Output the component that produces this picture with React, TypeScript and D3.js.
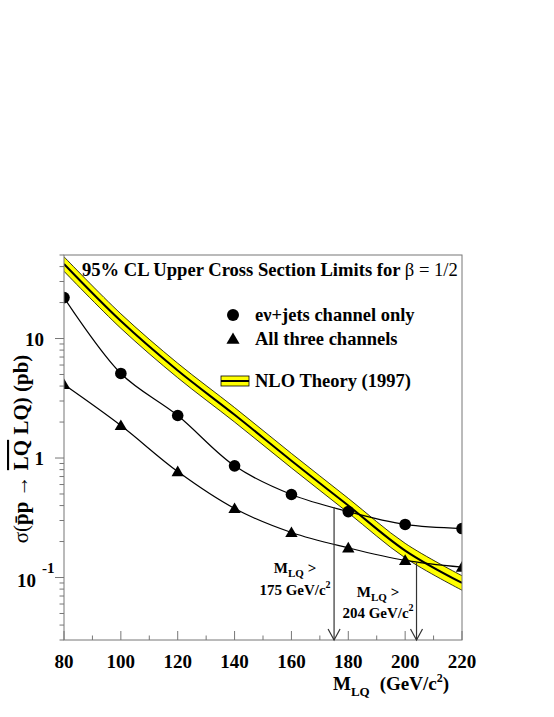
import React, { useEffect, useRef } from "react";
import * as d3 from "d3";

// mass points (GeV/c^2)
const masses = [80, 100, 120, 140, 160, 180, 200, 220];
// 95% CL limits (pb)
const evJetsLimits = [22, 5.1, 2.27, 0.86, 0.495, 0.356, 0.278, 0.257];
const allChannelsLimits = [4.12, 1.87, 0.77, 0.378, 0.238, 0.177, 0.139, 0.122];
// NLO theory (pb)
const theoryCentral = [42, 14, 5.4, 2.3, 0.95, 0.4, 0.168, 0.09];
const theoryUpper = theoryCentral.map((v) => v * 1.15);
const theoryLower = theoryCentral.map((v) => v / 1.15);
// mass limits and arrow tops
const limitMasses = [175, 204];
const limitLabels = ["175 GeV/c", "204 GeV/c"];
const arrowTops = [0.39, 0.133];
const xTicks = [80, 100, 120, 140, 160, 180, 200, 220];

const FONT = "Liberation Serif, Times New Roman, serif";

const App = () => {
  const ref = useRef(null);

  useEffect(() => {
    document.body.style.margin = "0";
    const width = 554;
    const height = 717;
    const m = { left: 64, right: 462, top: 255, bottom: 640 };

    const svg = d3.select(ref.current).attr("width", width).attr("height", height);
    svg.selectAll("*").remove();
    svg.append("rect").attr("width", width).attr("height", height).attr("fill", "white");

    const x = d3.scaleLinear().domain([80, 220]).range([m.left, m.right]);
    const y = d3.scaleLog().domain([0.03, 50]).range([m.bottom, m.top]);

    svg.append("clipPath").attr("id", "frame")
      .append("rect")
      .attr("x", m.left).attr("y", m.top)
      .attr("width", m.right - m.left).attr("height", m.bottom - m.top);

    const plot = svg.append("g").attr("clip-path", "url(#frame)");

    // theory band
    const band = d3.area()
      .x((d, i) => x(masses[i]))
      .y0((d, i) => y(theoryLower[i]))
      .y1((d, i) => y(theoryUpper[i]))
      .curve(d3.curveCatmullRom);
    plot.append("path").datum(masses).attr("d", band)
      .attr("fill", "#ffff00").attr("stroke", "none");

    const line = (vals) => d3.line()
      .x((d, i) => x(masses[i]))
      .y((d, i) => y(vals[i]))
      .curve(d3.curveCatmullRom)(masses);

    plot.append("path").attr("d", line(theoryUpper)).attr("fill", "none").attr("stroke", "black").attr("stroke-width", 0.8);
    plot.append("path").attr("d", line(theoryLower)).attr("fill", "none").attr("stroke", "black").attr("stroke-width", 0.8);
    plot.append("path").attr("d", line(theoryCentral)).attr("fill", "none").attr("stroke", "black").attr("stroke-width", 2);

    // limit curves
    plot.append("path").attr("d", line(evJetsLimits)).attr("fill", "none").attr("stroke", "black").attr("stroke-width", 1.2);
    plot.append("path").attr("d", line(allChannelsLimits)).attr("fill", "none").attr("stroke", "black").attr("stroke-width", 1.2);

    plot.selectAll("circle.ev").data(evJetsLimits).enter().append("circle")
      .attr("cx", (d, i) => x(masses[i])).attr("cy", (d) => y(d))
      .attr("r", 5.8).attr("fill", "black");

    const tri = d3.symbol().type(d3.symbolTriangle).size(66);
    plot.selectAll("path.tri").data(allChannelsLimits).enter().append("path")
      .attr("d", tri)
      .attr("transform", (d, i) => `translate(${x(masses[i])},${y(d) + 1})`)
      .attr("fill", "black");

    // frame
    const axisColor = "#777";
    svg.append("rect")
      .attr("x", m.left).attr("y", m.top)
      .attr("width", m.right - m.left).attr("height", m.bottom - m.top)
      .attr("fill", "none").attr("stroke", axisColor).attr("stroke-width", 1);

    // x ticks
    const xMinor = d3.range(80, 221, 10);
    svg.selectAll("line.xt").data(xMinor).enter().append("line")
      .attr("x1", (d) => x(d)).attr("x2", (d) => x(d))
      .attr("y1", m.bottom).attr("y2", (d) => m.bottom - (d % 20 === 0 ? 9 : 4.5))
      .attr("stroke", axisColor);
    svg.selectAll("text.xl").data(xTicks).enter().append("text")
      .attr("x", (d) => x(d)).attr("y", 668)
      .attr("text-anchor", "middle")
      .attr("font-family", FONT).attr("font-weight", "bold").attr("font-size", 19)
      .text((d) => d);

    // y ticks
    const yMinor = [];
    [0.01, 0.1, 1, 10].forEach((dec) => {
      for (let k = 1; k < 10; k++) {
        const v = dec * k;
        if (v >= 0.03 && v <= 50) yMinor.push({ v, major: k === 1 });
      }
    });
    svg.selectAll("line.yt").data(yMinor).enter().append("line")
      .attr("x1", m.left).attr("x2", (d) => m.left - (d.major ? 9 : 4.5))
      .attr("y1", (d) => y(d.v)).attr("y2", (d) => y(d.v))
      .attr("stroke", axisColor);

    const yLab = svg.append("g").attr("font-family", FONT).attr("font-weight", "bold").attr("font-size", 19);
    yLab.append("text").attr("x", 44).attr("y", y(10) + 7).attr("text-anchor", "end").text("10");
    yLab.append("text").attr("x", 44).attr("y", y(1) + 7).attr("text-anchor", "end").text("1");
    const t01 = yLab.append("text").attr("x", 17).attr("y", y(0.1) + 9);
    t01.append("tspan").text("10");
    t01.append("tspan").attr("dx", 6).attr("dy", -14).attr("font-size", 15).text("-1");

    // y axis title
    const yt = svg.append("text")
      .attr("transform", `translate(28,449) rotate(-90)`)
      .attr("text-anchor", "middle")
      .attr("font-family", FONT).attr("font-size", 21).attr("font-weight", "bold");
    yt.append("tspan").attr("font-weight", "normal").text("σ(");
    yt.append("tspan").text("p\u0304p ");
    yt.append("tspan").attr("font-weight", "normal").text("→ ");
    yt.append("tspan").attr("text-decoration", "overline").text("LQ");
    yt.append("tspan").text(" LQ)  (pb)");

    // x axis title
    const xt = svg.append("text").attr("x", 333).attr("y", 690)
      .attr("font-family", FONT).attr("font-size", 19).attr("font-weight", "bold");
    xt.append("tspan").text("M");
    xt.append("tspan").attr("dy", 6).attr("font-size", 13).text("LQ");
    xt.append("tspan").attr("dy", -6).attr("dx", 10).text("(GeV/c");
    xt.append("tspan").attr("dy", -8).attr("font-size", 12).text("2");
    xt.append("tspan").attr("dy", 8).text(")");

    // title
    const title = svg.append("text").attr("x", 82).attr("y", 276)
      .attr("font-family", FONT).attr("font-size", 18.6).attr("font-weight", "bold");
    title.append("tspan").text("95% CL Upper Cross Section Limits for ");
    title.append("tspan").attr("font-weight", "normal").text("β = 1/2");

    // legend
    const lg = svg.append("g").attr("font-family", FONT).attr("font-size", 18.5).attr("font-weight", "bold");
    lg.append("circle").attr("cx", 233).attr("cy", 315).attr("r", 6).attr("fill", "black");
    lg.append("text").attr("x", 255).attr("y", 321).text("eν+jets channel only");
    lg.append("path").attr("d", d3.symbol().type(d3.symbolTriangle).size(75))
      .attr("transform", "translate(233,340)").attr("fill", "black");
    lg.append("text").attr("x", 255).attr("y", 345).text("All three channels");
    lg.append("rect").attr("x", 221).attr("y", 376).attr("width", 28).attr("height", 10)
      .attr("fill", "#ffff00").attr("stroke", "black").attr("stroke-width", 0.8);
    lg.append("line").attr("x1", 221).attr("x2", 249).attr("y1", 381).attr("y2", 381)
      .attr("stroke", "black").attr("stroke-width", 2);
    lg.append("text").attr("x", 255).attr("y", 387).text("NLO Theory (1997)");

    // limit arrows
    limitMasses.forEach((mass, i) => {
      const ax = x(mass);
      const top = y(arrowTops[i]);
      svg.append("line").attr("x1", ax).attr("x2", ax).attr("y1", top).attr("y2", m.bottom)
        .attr("stroke", "#333").attr("stroke-width", 1.2);
      svg.append("path")
        .attr("d", `M${ax - 6},${m.bottom - 11}L${ax},${m.bottom}L${ax + 6},${m.bottom - 11}`)
        .attr("fill", "none").attr("stroke", "#333").attr("stroke-width", 1.2);
    });

    const annot = svg.append("g").attr("font-family", FONT).attr("font-size", 15).attr("font-weight", "bold")
      .attr("text-anchor", "middle");
    const annPos = [{ cx: 295, y1: 573, y2: 595 }, { cx: 378, y1: 597, y2: 618 }];
    limitMasses.forEach((mass, i) => {
      const p = annPos[i];
      const a = annot.append("text").attr("x", p.cx).attr("y", p.y1);
      a.append("tspan").text("M");
      a.append("tspan").attr("dy", 4).attr("font-size", 11).text("LQ");
      a.append("tspan").attr("dy", -4).text(" >");
      const b = annot.append("text").attr("x", p.cx).attr("y", p.y2);
      b.append("tspan").text(limitLabels[i]);
      b.append("tspan").attr("dy", -7).attr("font-size", 10).text("2");
    });
  }, []);

  return <svg ref={ref}></svg>;
};

export default App;
